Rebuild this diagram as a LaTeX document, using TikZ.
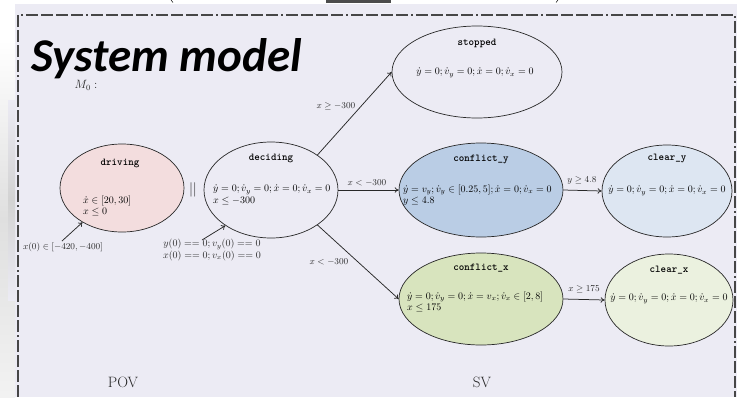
\documentclass[tikz,border=0pt]{standalone}
\usepackage{fontspec}
\newfontfamily\headfont{Carlito}
\usetikzlibrary{shapes.geometric,arrows.meta}
\definecolor{paper}{RGB}{236,235,244}
\definecolor{framegray}{RGB}{70,70,70}
\definecolor{inkgray}{RGB}{40,40,40}
\definecolor{pinkfill}{RGB}{243,221,222}
\definecolor{bluefill}{RGB}{186,205,229}
\definecolor{lightblue}{RGB}{221,230,242}
\definecolor{greenfill}{RGB}{216,228,190}
\definecolor{lightgreen}{RGB}{235,241,223}
\tikzset{
  state/.style={ellipse, draw=inkgray, line width=0.7pt, inner sep=0pt},
  ttl/.style={font=\fontsize{10.5}{11}\selectfont\ttfamily\bfseries, inner sep=0pt},
  body/.style={font=\fontsize{10.3}{11.5}\selectfont, align=left, inner sep=0pt, anchor=west},
  lbl/.style={font=\fontsize{9.3}{10}\selectfont, inner sep=0pt, text=inkgray},
  arr/.style={draw=inkgray, line width=0.75pt, -{To[length=4pt,width=5.5pt]}},
  big/.style={font=\fontsize{15}{16}\selectfont, inner sep=0pt, text=inkgray}
}
\begin{document}
\begin{tikzpicture}[x=1pt,y=-1pt]
\useasboundingbox (0,0) rectangle (739,397);
% page background and the bright strips round it
\fill[white] (0,0) rectangle (739,397);
\fill[paper] (15,4) rectangle (737,397);
\shade[top color=white, bottom color=gray!10, middle color=gray!25] (0,40) rectangle (15,397);
\shade[top color=paper, bottom color=paper, middle color=gray!35] (8,100) rectangle (15,300);
% clipped marks along the upper edge
\draw[inkgray, line width=0.6pt] (171,0) -- (173,2.5);
\fill[gray!60!black] (326,0) rectangle (391,2.5);
\draw[inkgray, line width=0.6pt] (558,0) -- (556,2.5);
% dash-dot frame
\draw[framegray, line width=1.3pt,
  dash pattern=on 12pt off 3pt on 12pt off 3pt on 12pt off 3pt on 12pt off 3pt on 2pt off 3pt]
  (18,397) -- (18,15) -- (735,15) -- (735,397);

% heading
\node[anchor=base west, inner sep=0pt, font=\headfont\bfseries\itshape\fontsize{47}{47}\selectfont] (head) at (31,71) {System model};
\node[inner sep=0pt, font=\fontsize{12}{12}\selectfont, text=inkgray] (mzero) at (86,85) {$M_0:$};

% POV automaton
\node[state, fill=pinkfill, minimum width=124pt, minimum height=88pt] (driving) at (122,188) {};
\node[ttl] (drivingT) at (120,163) {driving};
\node[body] (drivingB) at (83,206) {$\dot{x}\in[20,30]$\\$x\le 0$};
\node[lbl] (par) at (193,190) {\fontsize{14}{14}\selectfont$||$};

% SV automaton
\node[state, minimum width=134pt, minimum height=96pt] (decide) at (271,190) {};
\node[ttl] (decideT) at (271,158) {deciding};
\node[body] (decideB) at (213,195) {$\dot{y}=0;\dot{v}_y=0;\dot{x}=0;\dot{v}_x=0$\\$x\le -300$};

\node[state, minimum width=170pt, minimum height=92pt] (stopped) at (477,72) {};
\node[ttl] (stoppedT) at (477,43) {stopped};
\node[body, anchor=center] (stoppedB) at (475,73) {$\dot{y}=0;\dot{v}_y=0;\dot{x}=0;\dot{v}_x=0$};

\node[state, fill=bluefill, minimum width=164pt, minimum height=94pt] (confy) at (481,190) {};
\node[ttl] (confyT) at (481,159) {conflict\_y};
\node[body] (confyB) at (403,195) {$\dot{y}=v_y;\dot{v}_y\in[0.25,5];\dot{x}=0;\dot{v}_x=0$\\$y\le 4.8$};

\node[state, fill=lightblue, minimum width=130pt, minimum height=92pt] (cleary) at (667,191) {};
\node[ttl] (clearyT) at (667,158) {clear\_y};
\node[body, anchor=center] (clearyB) at (667,191) {$\dot{y}=0;\dot{v}_y=0;\dot{x}=0;\dot{v}_x=0$};

\node[state, fill=greenfill, minimum width=164pt, minimum height=92pt] (confx) at (481,299) {};
\node[ttl] (confxT) at (481,268) {conflict\_x};
\node[body] (confxB) at (407,302) {$\dot{y}=0;\dot{v}_y=0;\dot{x}=v_x;\dot{v}_x\in[2,8]$\\$x\le 175$};

\node[state, fill=lightgreen, minimum width=128pt, minimum height=92pt] (clearx) at (669,300) {};
\node[ttl] (clearxT) at (669,270) {clear\_x};
\node[body, anchor=center] (clearxB) at (669,299) {$\dot{y}=0;\dot{v}_y=0;\dot{x}=0;\dot{v}_x=0$};

% initial conditions
\node[lbl] (initP) at (63,247) {$x(0)\in[-420,-400]$};
\coordinate (initPs) at (62,241);
\draw[arr] (initPs) -- (driving.221);
\node[lbl, align=center, font=\fontsize{9.8}{9}\selectfont] (initS) at (212,250) {$y(0)==0;v_y(0)==0$\\$x(0)==0;v_x(0)==0$};
\coordinate (initSs) at (202,240);
\draw[arr] (initSs) -- (decide.218);

% transitions
\draw[arr] (decide.37) -- (stopped.west);
\node[lbl] (gStop) at (336,106) {$x\ge -300$};
\draw[arr] (decide.east) -- (confy.west);
\node[lbl] (gConfy) at (367,183) {$x<-300$};
\draw[arr] (decide.-37) -- (confx.west);
\node[lbl] (gConfx) at (329,262) {$x<-300$};
\draw[arr] (confy.east) -- (cleary.west);
\node[lbl] (gCleary) at (582,180) {$y\ge 4.8$};
\draw[arr] (confx.east) -- (clearx.west);
\node[lbl] (gClearx) at (584,289) {$x\ge 175$};

% component captions
\node[big] (pov) at (123,382) {POV};
\node[big] (sv) at (482,382) {SV};
\end{tikzpicture}
\end{document}
